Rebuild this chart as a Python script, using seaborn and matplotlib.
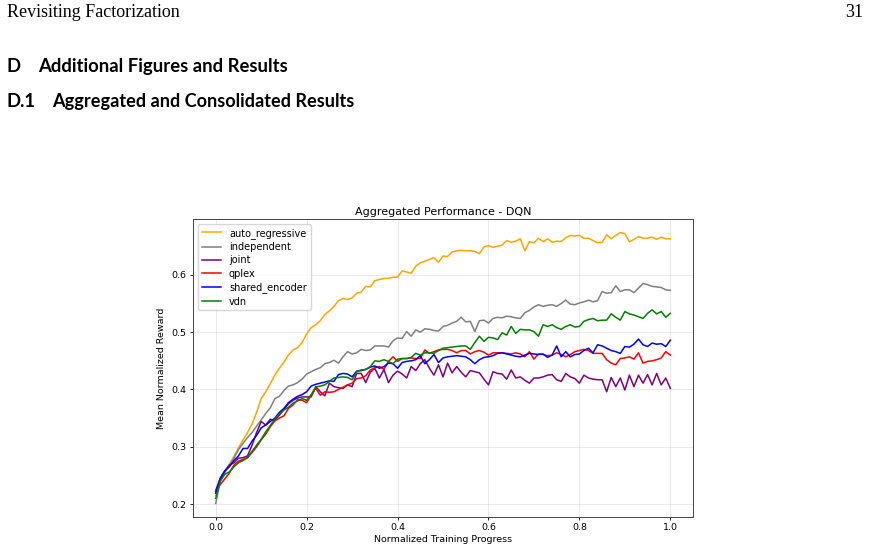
import numpy as np
import pandas as pd
import matplotlib
matplotlib.use("Agg")
import matplotlib.pyplot as plt
import seaborn as sns

progress = [round(i * 0.01, 2) for i in range(101)]

auto_regressive = [
    0.215, 0.240, 0.255, 0.270, 0.283, 0.298, 0.312, 0.325, 0.340, 0.360,
    0.384, 0.396, 0.410, 0.425, 0.437, 0.448, 0.460, 0.469, 0.473, 0.482,
    0.497, 0.508, 0.513, 0.520, 0.531, 0.537, 0.545, 0.555, 0.559, 0.557,
    0.560, 0.568, 0.570, 0.580, 0.579, 0.590, 0.592, 0.594, 0.594, 0.596,
    0.596, 0.607, 0.605, 0.603, 0.615, 0.621, 0.624, 0.627, 0.630, 0.622,
    0.633, 0.632, 0.640, 0.642, 0.643, 0.642, 0.642, 0.641, 0.637, 0.649,
    0.651, 0.648, 0.650, 0.652, 0.660, 0.657, 0.659, 0.663, 0.642, 0.658,
    0.656, 0.664, 0.658, 0.663, 0.657, 0.659, 0.658, 0.665, 0.669, 0.668,
    0.669, 0.664, 0.664, 0.660, 0.656, 0.657, 0.670, 0.663, 0.669, 0.674,
    0.672, 0.658, 0.662, 0.667, 0.664, 0.664, 0.666, 0.662, 0.666, 0.663,
    0.663,
]

independent = [
    0.201, 0.240, 0.255, 0.268, 0.280, 0.295, 0.306, 0.316, 0.325, 0.336,
    0.347, 0.358, 0.368, 0.384, 0.388, 0.398, 0.406, 0.408, 0.412, 0.418,
    0.427, 0.431, 0.435, 0.438, 0.445, 0.447, 0.451, 0.446, 0.457, 0.466,
    0.462, 0.464, 0.470, 0.468, 0.469, 0.476, 0.476, 0.476, 0.474, 0.485,
    0.490, 0.489, 0.501, 0.493, 0.504, 0.500, 0.506, 0.505, 0.503, 0.502,
    0.510, 0.512, 0.516, 0.519, 0.526, 0.518, 0.519, 0.501, 0.520, 0.521,
    0.516, 0.524, 0.526, 0.525, 0.528, 0.527, 0.525, 0.524, 0.534, 0.538,
    0.544, 0.548, 0.545, 0.547, 0.548, 0.545, 0.550, 0.556, 0.549, 0.548,
    0.551, 0.553, 0.556, 0.553, 0.555, 0.571, 0.568, 0.569, 0.581, 0.571,
    0.574, 0.574, 0.569, 0.577, 0.585, 0.583, 0.580, 0.579, 0.578, 0.574,
    0.573,
]

joint = [
    0.224, 0.245, 0.258, 0.268, 0.272, 0.280, 0.281, 0.284, 0.303, 0.325,
    0.344, 0.338, 0.348, 0.346, 0.355, 0.365, 0.375, 0.381, 0.385, 0.387,
    0.387, 0.387, 0.405, 0.396, 0.389, 0.411, 0.405, 0.403, 0.402, 0.408,
    0.405, 0.428, 0.428, 0.412, 0.430, 0.437, 0.420, 0.435, 0.412, 0.425,
    0.432, 0.427, 0.420, 0.440, 0.433, 0.445, 0.452, 0.437, 0.425, 0.443,
    0.422, 0.446, 0.429, 0.440, 0.430, 0.422, 0.433, 0.431, 0.429, 0.418,
    0.408, 0.431, 0.428, 0.427, 0.418, 0.434, 0.420, 0.422, 0.416, 0.411,
    0.420, 0.420, 0.422, 0.425, 0.426, 0.417, 0.414, 0.428, 0.422, 0.419,
    0.411, 0.425, 0.420, 0.418, 0.417, 0.417, 0.396, 0.421, 0.405, 0.420,
    0.399, 0.425, 0.405, 0.425, 0.411, 0.426, 0.408, 0.428, 0.408, 0.420,
    0.402,
]

qplex = [
    0.222, 0.234, 0.244, 0.254, 0.268, 0.275, 0.278, 0.281, 0.290, 0.300,
    0.312, 0.322, 0.335, 0.345, 0.350, 0.354, 0.367, 0.373, 0.382, 0.381,
    0.377, 0.390, 0.402, 0.390, 0.396, 0.395, 0.396, 0.400, 0.404, 0.408,
    0.411, 0.419, 0.420, 0.424, 0.434, 0.438, 0.440, 0.435, 0.449, 0.457,
    0.449, 0.454, 0.454, 0.455, 0.454, 0.454, 0.469, 0.463, 0.466, 0.469,
    0.470, 0.470, 0.468, 0.464, 0.468, 0.468, 0.462, 0.466, 0.468, 0.465,
    0.460, 0.464, 0.464, 0.464, 0.463, 0.462, 0.464, 0.462, 0.457, 0.466,
    0.453, 0.462, 0.461, 0.459, 0.460, 0.464, 0.461, 0.457, 0.461, 0.466,
    0.468, 0.470, 0.468, 0.463, 0.463, 0.463, 0.452, 0.446, 0.443, 0.454,
    0.455, 0.457, 0.453, 0.464, 0.446, 0.449, 0.450, 0.452, 0.455, 0.466,
    0.460,
]

shared_encoder = [
    0.219, 0.245, 0.258, 0.265, 0.276, 0.284, 0.297, 0.297, 0.310, 0.320,
    0.333, 0.338, 0.344, 0.350, 0.360, 0.367, 0.377, 0.383, 0.388, 0.391,
    0.396, 0.406, 0.409, 0.411, 0.413, 0.415, 0.414, 0.426, 0.428, 0.427,
    0.422, 0.432, 0.433, 0.435, 0.439, 0.441, 0.437, 0.440, 0.446, 0.445,
    0.437, 0.447, 0.449, 0.450, 0.452, 0.459, 0.445, 0.452, 0.461, 0.447,
    0.455, 0.457, 0.458, 0.459, 0.458, 0.457, 0.452, 0.445, 0.452, 0.456,
    0.457, 0.459, 0.463, 0.464, 0.462, 0.460, 0.458, 0.457, 0.460, 0.463,
    0.462, 0.461, 0.462, 0.456, 0.460, 0.476, 0.457, 0.466, 0.457, 0.461,
    0.462, 0.468, 0.472, 0.464, 0.478, 0.476, 0.472, 0.468, 0.466, 0.463,
    0.475, 0.474, 0.479, 0.488, 0.478, 0.475, 0.481, 0.479, 0.480, 0.475,
    0.486,
]

vdn = [
    0.210, 0.240, 0.252, 0.256, 0.265, 0.272, 0.276, 0.281, 0.292, 0.303,
    0.313, 0.326, 0.337, 0.348, 0.357, 0.364, 0.369, 0.376, 0.380, 0.384,
    0.381, 0.391, 0.404, 0.406, 0.408, 0.414, 0.420, 0.421, 0.422, 0.421,
    0.417, 0.431, 0.434, 0.435, 0.440, 0.450, 0.449, 0.452, 0.449, 0.445,
    0.453, 0.454, 0.454, 0.456, 0.463, 0.460, 0.464, 0.464, 0.463, 0.468,
    0.472, 0.473, 0.474, 0.475, 0.476, 0.476, 0.470, 0.482, 0.493, 0.484,
    0.491, 0.490, 0.487, 0.499, 0.495, 0.510, 0.498, 0.505, 0.504, 0.504,
    0.501, 0.493, 0.513, 0.510, 0.513, 0.508, 0.505, 0.510, 0.513, 0.509,
    0.510, 0.519, 0.522, 0.524, 0.520, 0.521, 0.521, 0.532, 0.526, 0.521,
    0.536, 0.532, 0.530, 0.527, 0.524, 0.533, 0.539, 0.532, 0.536, 0.526,
    0.533,
]

methods = ["auto_regressive", "independent", "joint", "qplex", "shared_encoder", "vdn"]
colors = ["orange", "gray", "purple", "red", "blue", "green"]
series = [auto_regressive, independent, joint, qplex, shared_encoder, vdn]

frames = []
for name, vals in zip(methods, series):
    frames.append(pd.DataFrame({"progress": progress, "reward": vals, "method": name}))
df = pd.concat(frames, ignore_index=True)

fig = plt.figure(figsize=(8.69, 5.52), dpi=100)

# page header / section titles
fig.text(0.008, 0.978, "Revisiting Factorization", family="Liberation Serif",
         fontsize=13, va="center", ha="left")
fig.text(0.993, 0.978, "31", family="Liberation Serif", fontsize=13,
         va="center", ha="right")
fig.text(0.008, 0.879, "D", family="Lato", weight="bold", fontsize=13.3, va="center")
fig.text(0.044, 0.879, "Additional Figures and Results", family="Lato",
         weight="bold", fontsize=13.3, va="center")
fig.text(0.008, 0.817, "D.1", family="Lato", weight="bold", fontsize=13.3, va="center")
fig.text(0.060, 0.817, "Aggregated and Consolidated Results", family="Lato",
         weight="bold", fontsize=13.1, va="center")

ax = fig.add_axes([0.2221, 0.0634, 0.5754, 0.5399])
sns.lineplot(data=df, x="progress", y="reward", hue="method",
             palette=dict(zip(methods, colors)), linewidth=1.1, ax=ax)

ax.set_title("Aggregated Performance - DQN", fontsize=8, pad=3)
ax.set_xlabel("Normalized Training Progress", fontsize=6.8, labelpad=2)
ax.set_ylabel("Mean Normalized Reward", fontsize=6.8, labelpad=4)
ax.set_xticks([0.0, 0.2, 0.4, 0.6, 0.8, 1.0])
ax.set_yticks([0.2, 0.3, 0.4, 0.5, 0.6])
ax.tick_params(labelsize=6.8, length=2.5, width=0.6, pad=2)
for sp in ax.spines.values():
    sp.set_linewidth(0.7)
    sp.set_color("#444444")
ax.grid(True, alpha=0.3, linewidth=0.6)
ax.legend(loc="upper left", fontsize=7.0, handlelength=2.0, borderpad=0.4,
          labelspacing=0.35, handletextpad=0.8, framealpha=0.8)

fig.savefig("out.png", dpi=100)
